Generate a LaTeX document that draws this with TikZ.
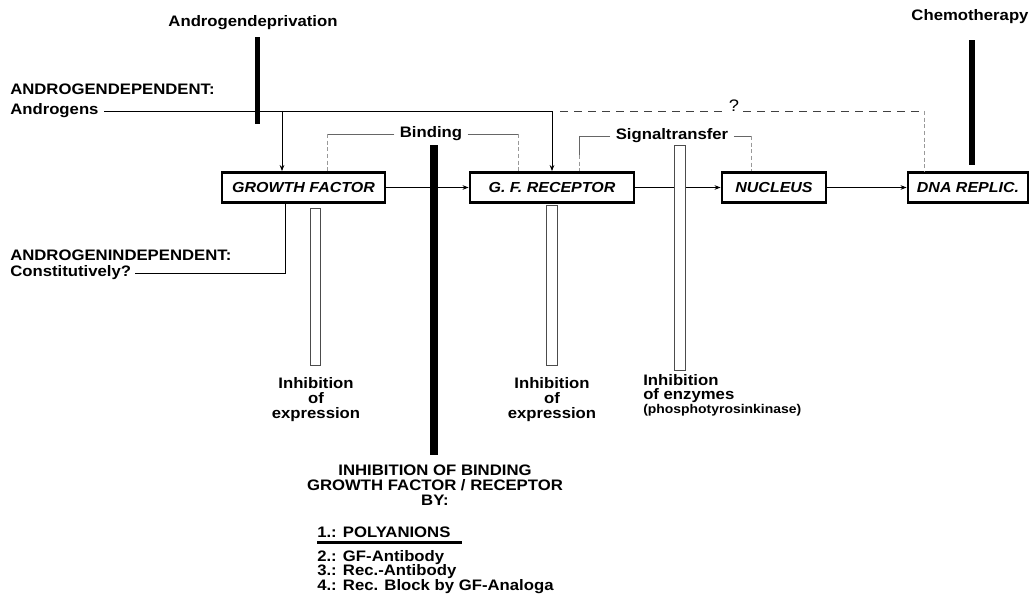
\documentclass[tikz,border=0pt]{standalone}
\usepackage{fontspec}
\setmainfont{Liberation Sans}[FakeStretch=1.1]
\usetikzlibrary{arrows.meta,calc}
\newcommand\fsmain{\fontsize{11.4}{13}\selectfont}
\begin{document}
\begin{tikzpicture}[x=0.75pt,y=-0.75pt,
  t/.style={font=\fsmain\bfseries, inner sep=0pt},
  box/.style={draw, line width=2.2pt, inner sep=0pt, font=\fontsize{10.9}{12}\selectfont\bfseries\itshape, minimum height=22.5pt},
  conn/.style={line width=0.6pt},
  arr/.style={conn, -{Stealth[length=4.5pt,width=3.5pt]}},
  faint/.style={line width=0.5pt, black!60},
  faintv/.style={line width=0.5pt, black!40, dash pattern=on 3pt off 2pt},
  dline/.style={line width=0.5pt, black!75, dash pattern=on 6pt off 4.5pt},
  hbar/.style={fill=black, draw=none, inner sep=0pt},
  obar/.style={draw=black!70, line width=0.5pt, fill=white, inner sep=0pt}
]
\fill[white] (0,0) rectangle (1031,595);
\useasboundingbox (0,0) rectangle (1031,595);

% boxes
\node[box, minimum width=122.25pt] (gf)  at (303.5,187.5) {GROWTH FACTOR};
\node[box, minimum width=123pt]    (gfr) at (552,187.5) {G. F. RECEPTOR};
\node[box, minimum width=78pt]     (nuc) at (774,187.5) {NUCLEUS};
\node[box, minimum width=90pt]     (dna) at (968,187.5) {DNA REPLIC.};

% text labels
\node[t] (depriv) at (253,23) {Androgendeprivation};
\node[t, anchor=west] (dep) at (10,89) {ANDROGENDEPENDENT:};
\node[t, anchor=west] (androgens) at (10,111) {Androgens};
\node[t, anchor=west] (indep) at (10,255) {ANDROGENINDEPENDENT:};
\node[t, anchor=west] (const) at (10,273) {Constitutively?};
\node[t] (chemo) at (970,17) {Chemotherapy};
\node[t] (binding) at (431,134) {Binding};
\node[t] (signal) at (672,136) {Signaltransfer};
\node[font=\fontsize{12.5}{13}\selectfont, inner sep=0pt] (q) at (734,106) {?};

% androgen path
\coordinate (j1) at (282,111);
\draw[arr] ([xshift=4pt]androgens.east) -| (gfr.north);
\draw[arr] (j1) -- (j1 |- gf.north);
\coordinate (j2) at (gfr.north |- j1);
\draw[dline] ([xshift=6pt]j2) -- ([xshift=-3pt]q.west |- j2);
\coordinate (d1) at (924,111);
\draw[dline] ([xshift=3pt]q.east |- j2) -- (d1);
\draw[faintv] (d1) -- (d1 |- dna.north);

% androgen independent
\draw[conn] ([xshift=3pt]const.east) -| (gf.south -| 285,0);

% binding bracket
\coordinate (b1) at (327,134);
\coordinate (b2) at (518,134);
\draw[faint] ([xshift=-4pt]binding.west) -- (b1);
\draw[faintv] (b1) -- (b1 |- gf.north);
\draw[faint] ([xshift=4pt]binding.east) -- (b2);
\draw[faintv] (b2) -- (b2 |- gfr.north);

% signaltransfer bracket
\coordinate (s1) at (579,136);
\coordinate (s2) at (751,136);
\draw[faint] ([xshift=-4pt]signal.west) -- (s1);
\draw[faint] (s1) -- (579,155);
\draw[faintv] (579,155) -- (s1 |- gfr.north);
\draw[faint] ([xshift=4pt]signal.east) -- (s2);
\draw[faintv] (s2) -- (s2 |- nuc.north);

% main flow
\draw[arr] (gf.east) -- (gfr.west);
\draw[arr] (gfr.east) -- (nuc.west);
\draw[arr] (nuc.east) -- (dna.west);

% bars
\node[hbar, minimum width=3.75pt, minimum height=65.25pt] (barA) at (257.5,80.5) {};
\node[hbar, minimum width=4.5pt, minimum height=93.75pt] (barC) at (972,102.5) {};
\node[hbar, minimum width=6pt, minimum height=232.5pt] (barB) at (434,300) {};
\node[obar, minimum width=7.5pt, minimum height=117.75pt] (ob1) at (315,286.5) {};
\node[obar, minimum width=8.25pt, minimum height=120pt] (ob2) at (551.5,285) {};
\node[obar, minimum width=8.25pt, minimum height=168.75pt] (ob3) at (679.5,257.5) {};

% inhibition texts
\node[t, anchor=north, align=center, font=\fontsize{11.4}{11.25}\selectfont\bfseries] (inh1) at (316,377) {Inhibition\\of\\expression};
\node[t, anchor=north, align=center, font=\fontsize{11.4}{11.25}\selectfont\bfseries] (inh2) at (552,377) {Inhibition\\of\\expression};
\node[t, anchor=north west, align=left, font=\fontsize{11.4}{10.5}\selectfont\bfseries] (inh3) at (643,374) {Inhibition\\of enzymes\\{\fontsize{9.5}{10.5}\selectfont(phosphotyrosinkinase)}};

% bottom block
\node[t, anchor=north, align=center, font=\fontsize{11.4}{11.25}\selectfont\bfseries] (head) at (435,465) {INHIBITION OF BINDING\\GROWTH FACTOR / RECEPTOR\\BY:};
\node[t, anchor=base west] (poly) at (317,537) {1.: POLYANIONS};
\draw[line width=2.25pt] ([yshift=-4pt]poly.base west) -- ++(145,0);
\node[t, anchor=north west, align=left, font=\fontsize{11.4}{10.9}\selectfont\bfseries] (list) at (317,550) {2.: GF-Antibody\\3.: Rec.-Antibody\\4.: Rec. Block by GF-Analoga};
\end{tikzpicture}
\end{document}
